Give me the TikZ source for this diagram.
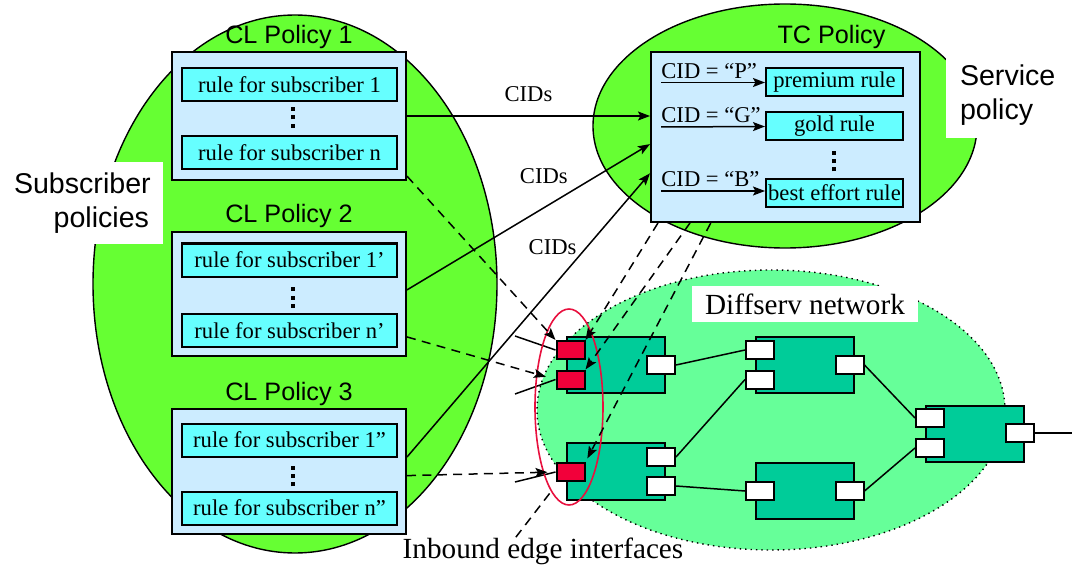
\documentclass[tikz,border=0pt]{standalone}
\usepackage{fontspec}
\setmainfont{Liberation Serif}
\setsansfont{Liberation Sans}
\usepackage{tikz}
\usetikzlibrary{arrows.meta,shapes.geometric,positioning}

\definecolor{blobgreen}{HTML}{66FF33}
\definecolor{policyblue}{HTML}{CCECFF}
\definecolor{rulecyan}{HTML}{66FFFF}
\definecolor{netgreen}{HTML}{66FF99}
\definecolor{routerteal}{HTML}{00CC99}
\definecolor{ingressred}{HTML}{F2003A}
\definecolor{ringred}{HTML}{E8103E}

\newcommand{\sqdots}{\vbox{\baselineskip=4.2pt\lineskiplimit=0pt
  \hbox{\rule{2pt}{2pt}}\hbox{\rule{2pt}{2pt}}\hbox{\rule{2pt}{2pt}}}}

\tikzstyle{blob} = [ellipse, draw=black, fill=blobgreen, inner sep=0pt, line width=0.7pt]
\tikzstyle{policy} = [rectangle, draw=black, fill=policyblue, line width=1pt, minimum width=117pt, minimum height=62pt, inner sep=0pt]
\tikzstyle{rulebox} = [rectangle, draw=black, fill=rulecyan, line width=1pt, minimum width=107.5pt, minimum height=16.5pt, inner sep=0pt, font=\fontsize{11.3}{13}\selectfont]
\tikzstyle{tcrule} = [rulebox, minimum width=68.5pt, minimum height=14pt]
\tikzstyle{policytitle} = [inner sep=0pt, font=\sffamily\fontsize{12.6}{14}\selectfont]
\tikzstyle{cid} = [inner sep=0pt, anchor=base west, font=\fontsize{11.3}{13}\selectfont]
\tikzstyle{cidtext} = [font=\fontsize{11.3}{13}\selectfont]
\tikzstyle{tag} = [fill=white, inner ysep=0pt, font=\sffamily\fontsize{14.3}{17}\selectfont]
\tikzstyle{dotstack} = [inner sep=0pt]
\tikzstyle{router} = [rectangle, draw=black, fill=routerteal, line width=1pt, minimum width=49pt, minimum height=28pt, inner sep=0pt]
\tikzstyle{port} = [rectangle, draw=black, fill=white, line width=1pt, minimum width=14pt, minimum height=9pt, inner sep=0pt]
\tikzstyle{inport} = [port, fill=ingressred]
\tikzstyle{link} = [line width=0.75pt]
\tikzstyle{cidarrow} = [line width=0.75pt, -{Stealth[length=6pt, width=4.5pt, inset=1.2pt]}]
\tikzstyle{maparrow} = [cidarrow, dash pattern=on 4.5pt off 3.2pt]

\begin{document}
\begin{tikzpicture}[x=0.5pt, y=-0.5pt]
	\useasboundingbox (0,0) rectangle (1072,567);

	% policy domains
	\node (subdom) [blob, minimum width=202pt, minimum height=269pt] at (295,284) {};
	\node (svcdom) [blob, minimum width=192pt, minimum height=122pt] at (785,126) {};
	\node (subtag) [tag, text width=67.5pt, inner xsep=7pt, minimum height=41pt, align=right] at (81.5,203) {Subscriber\\policies};
	\node (svctag) [tag, text width=49pt, inner xsep=7pt, minimum height=43.5pt, align=left] at (1009,95) {Service\\policy};

	% diffserv cloud
	\node (net) [ellipse, draw=black, dotted, line width=0.7pt, fill=netgreen, inner sep=0pt, minimum width=234pt, minimum height=140pt] at (771,410) {};
	\node (nettag) [fill=white, inner sep=0pt, minimum width=113pt, minimum height=18pt, font=\fontsize{14.6}{16}\selectfont] at (805,304) {Diffserv network};

	% classifier policies
	\node (cl1) [policy, minimum height=64pt] at (289,116) {};
	\node (cl2) [policy] at (289,294) {};
	\node (cl3) [policy, minimum height=62.5pt] at (289,471.5) {};
	\node (cl1title) [policytitle, above=1pt of cl1] {CL Policy 1};
	\node (cl2title) [policytitle, above=1.5pt of cl2] {CL Policy 2};
	\node (cl3title) [policytitle, above=1pt of cl3] {CL Policy 3};

	\node (r11) [rulebox] at (289.5,85) {rule for subscriber 1};
	\node (r1n) [rulebox] at (289.5,153) {rule for subscriber n};
	\node (r21) [rulebox] at (289.5,260) {rule for subscriber 1’};
	\node (r2n) [rulebox] at (289.5,330.5) {rule for subscriber n’};
	\node (r31) [rulebox] at (289.5,440) {rule for subscriber 1”};
	\node (r3n) [rulebox] at (289.5,508) {rule for subscriber n”};
	\node (dots1) [dotstack] at (293,117.5) {\sqdots};
	\node (dots2) [dotstack] at (293,297.5) {\sqdots};
	\node (dots3) [dotstack] at (293,476) {\sqdots};

	% traffic conditioning policy
	\node (tc) [policy, minimum width=134.5pt, minimum height=85pt] at (785.5,137) {};
	\node (tctitle) [policytitle, above=1pt of tc, xshift=23pt] {TC Policy};
	\node (premium) [tcrule] at (834.5,82.5) {premium rule};
	\node (gold) [tcrule] at (834.5,126.5) {gold rule};
	\node (besteff) [tcrule] at (834.5,193) {best effort rule};
	\node (dots4) [dotstack] at (834,161) {\sqdots};
	\node (cidP) [cid] at (661,78.5) {CID = “P”};
	\node (cidG) [cid] at (661,123) {CID = “G”};
	\node (cidB) [cid] at (661,187) {CID = “B”};
	\draw [cidarrow] (cidP.base west) ++(0,4) -- (premium.west);
	\draw [cidarrow] (cidG.base west) ++(0,4) -- (gold.west);
	\draw [cidarrow] (cidB.base west) ++(0,4) -- (besteff.west |- 0,191);

	% routers
	\node (rA) [router] at (616,365) {};
	\node (rB) [router, minimum height=28.5pt] at (616,471.5) {};
	\node (rC) [router] at (805,365) {};
	\node (rD) [router] at (805,491) {};
	\node (rE) [router] at (974.5,433.5) {};

	\node (A1) [inport] at (570.5,350) {};
	\node (A2) [inport] at (570.5,379.5) {};
	\node (Aout) [port] at (661,365) {};
	\node (B1) [inport] at (570.5,472) {};
	\node (Bout1) [port] at (661,457) {};
	\node (Bout2) [port] at (661,486) {};
	\node (Cin1) [port] at (760,350) {};
	\node (Cin2) [port] at (760,379.5) {};
	\node (Cout) [port] at (849.5,365) {};
	\node (Din) [port] at (760,491) {};
	\node (Dout) [port] at (849.5,491) {};
	\node (Ein1) [port] at (930,418) {};
	\node (Ein2) [port] at (930,448) {};
	\node (Eout) [port] at (1019.5,433) {};

	\coordinate (inA1) at (515,336);
	\coordinate (inA2) at (515,394);
	\coordinate (inB1) at (515,482);
	\coordinate (egress) at (1072,433);

	\draw [link] (Aout.east) -- (Cin1.west);
	\draw [link] (Bout1.east) -- (Cin2.west);
	\draw [link] (Bout2.east) -- (Din.west);
	\draw [link] (Cout.east) -- (Ein1.west);
	\draw [link] (Dout.east) -- (Ein2.west);
	\draw [link] (Eout.east) -- (egress);
	\draw [link] (inA1) -- (A1.west);
	\draw [link] (inA2) -- (A2.west);
	\draw [link] (inB1) -- (B1.west);

	% edge interfaces
	\node (ring) [ellipse, draw=ringred, line width=0.8pt, inner sep=0pt, minimum width=34pt, minimum height=98pt] at (569,407) {};
	\node (inbound) [inner sep=0pt, font=\fontsize{14.6}{16}\selectfont] at (543,551) {Inbound edge interfaces};

	% class identifiers
	\draw [cidarrow] (cl1.east) -- node [cidtext, midway, above=3.5pt] {CIDs} (cl1.east -| tc.west);
	\draw [cidarrow] (cl2.2) -- node [cidtext, pos=0.563, above=8.5pt] {CIDs} (tc.183);
	\draw [cidarrow] (cl3.7) -- node [cidtext, pos=0.74, left=1.5pt] {CIDs} (tc.195);

	% rule installation
	\draw [maparrow] (cl1.-27) -- (A1.north west);
	\draw [maparrow, shorten >=5pt] (cl2.-20) -- (A2.west);
	\draw [maparrow, shorten >=4pt] (cl3.-2) -- (B1.west);
	\draw [maparrow] (tc.214) -- (A1.north east);
	\draw [maparrow] (tc.222) -- (A2.north east);
	\draw [maparrow, shorten >=2pt] (tc.229) -- (B1.north east);
	\draw [link, dash pattern=on 4.5pt off 3.2pt] (inbound.153) -- (ring.258);
\end{tikzpicture}
\end{document}
